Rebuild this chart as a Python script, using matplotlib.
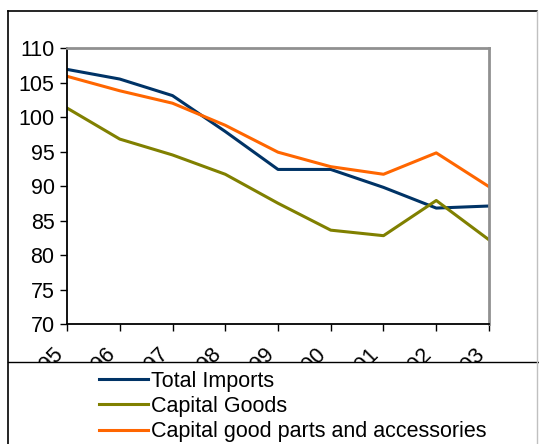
import matplotlib.pyplot as plt
from matplotlib.lines import Line2D
from matplotlib.patches import Rectangle

plt.rcParams['font.family'] = ['Liberation Sans', 'DejaVu Sans']

years = ['1995', '1996', '1997', '1998', '1999', '2000', '2001', '2002', '2003']
total_imports = [106.9, 105.5, 103.1, 97.9, 92.4, 92.4, 89.8, 86.8, 87.1]
capital_goods = [101.3, 96.8, 94.5, 91.7, 87.5, 83.6, 82.8, 87.9, 82.2]
parts_accessories = [105.9, 103.8, 102.0, 98.8, 94.9, 92.8, 91.7, 94.8, 89.9]

W, H = 539, 444
FS = 15.5
fig = plt.figure(figsize=(W / 100, H / 100), dpi=100)
ax = fig.add_axes([67 / W, 1 - 324 / H, (489 - 67) / W, (324 - 48) / H])

x = range(len(years))
ax.plot(x, total_imports, color='#003366', lw=2.2, label='Total Imports')
ax.plot(x, capital_goods, color='#808000', lw=2.2, label='Capital Goods')
ax.plot(x, parts_accessories, color='#FF6600', lw=2.2,
        label='Capital good parts and accessories')

ax.set_xlim(0, len(years) - 1)
ax.set_ylim(70, 110)
ax.set_yticks(range(70, 111, 5))
ax.set_xticks(list(x))
ax.set_xticklabels(years, rotation=45, ha='right')
ax.tick_params(axis='both', direction='out', length=5, width=1, labelsize=FS,
               color='black', pad=4)
ax.tick_params(axis='x', pad=9)

for side in ('left', 'bottom'):
    ax.spines[side].set_color('black')
    ax.spines[side].set_linewidth(1.3)
for side in ('top', 'right'):
    ax.spines[side].set_color('#909090')
    ax.spines[side].set_linewidth(2)

# legend panel covers the lower part of the rotated year labels
fig.patches.append(Rectangle((8 / W, 0), 1, 1 - 362 / H, transform=fig.transFigure,
                             facecolor='white', edgecolor='none', zorder=5))
fig.lines.append(Line2D([8 / W, 1], [1 - 362 / H] * 2, transform=fig.transFigure,
                        color='black', lw=1, zorder=6))
# outer frame
fig.lines.append(Line2D([8 / W, 537 / W], [1 - 11 / H] * 2, transform=fig.transFigure,
                        color='black', lw=1.2, zorder=6))
fig.lines.append(Line2D([8 / W] * 2, [0, 1 - 11 / H], transform=fig.transFigure,
                        color='black', lw=1.2, zorder=6))
fig.lines.append(Line2D([537 / W] * 2, [0, 1 - 11 / H], transform=fig.transFigure,
                        color='#c0c0c0', lw=1, zorder=6))

leg = fig.legend(loc='upper left', bbox_to_anchor=(90 / W, 1 - 362 / H),
                 frameon=False, fontsize=FS, handlelength=2.3, handletextpad=0.15,
                 labelspacing=0.2, borderaxespad=0)
leg.set_zorder(10)

fig.savefig('out.png', dpi=100)
